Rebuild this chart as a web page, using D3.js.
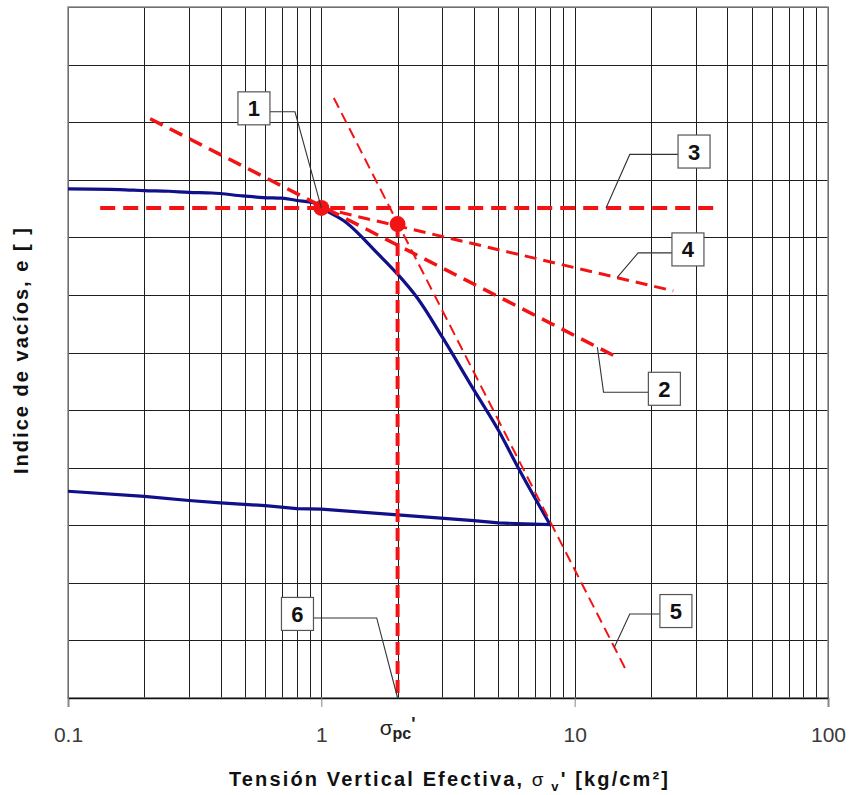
<!DOCTYPE html>
<html>
<head>
<meta charset="utf-8">
<script src="https://cdn.jsdelivr.net/npm/d3@7"></script>
<style>
  body { margin: 0; background: #fff; }
  svg { display: block; font-family: "Liberation Sans", Arial, sans-serif; }
</style>
</head>
<body>
<svg id="chart" width="849" height="795"></svg>
<script>
// Oedometer curve: void ratio e vs effective vertical stress (log scale), Casagrande construction
const xDomain = [0.1, 100];
const xTickLabels = [0.1, 1, 10, 100];
const eDomain = [0.6, 1.8];
const eGridValues = [0.6, 0.7, 0.8, 0.9, 1.0, 1.1, 1.2, 1.3, 1.4, 1.5, 1.6, 1.7, 1.8];

// loading branch [stress kg/cm², e]
const loadingCurve = [
  [0.1, 1.484], [0.16, 1.483], [0.2, 1.481], [0.25, 1.480], [0.3, 1.478],
  [0.37, 1.477], [0.49, 1.472], [0.59, 1.469], [0.7, 1.468], [0.8, 1.464],
  [0.93, 1.460], [1.0, 1.451], [1.26, 1.425], [1.66, 1.373], [2.0, 1.336],
  [2.39, 1.295], [3.0, 1.227], [4.0, 1.135], [5.0, 1.065], [6.0, 0.999],
  [8.0, 0.901]
];
// unloading branch
const unloadingCurve = [
  [8.0, 0.901], [5.0, 0.904], [4.0, 0.908], [2.0, 0.918], [1.0, 0.928],
  [0.8, 0.929], [0.6, 0.934], [0.4, 0.939], [0.3, 0.943], [0.2, 0.950],
  [0.1, 0.959]
];

// construction lines
const tangentLine = [[0.211, 1.606], [14.66, 1.192]];      // 2
const horizontalLine = [[0.134, 1.451], [36.8, 1.451]];    // 3
const bisectorLine = [[1.0, 1.451], [24.5, 1.307]];        // 4
const virginLine = [[1.12, 1.642], [16.05, 0.646]];        // 5
const sigmaPcLine = [[2.0, 1.423], [2.0, 0.6]];            // 6

const maxCurvaturePoint = [1.0, 1.451];
const sigmaPcPoint = [2.0, 1.423];

// callouts: box centre, elbow of leader, target stress on its line
const callouts = [
  { label: "1", box: [0.542, 1.624], elbow: [0.787, 1.618], target: maxCurvaturePoint },
  { label: "2", box: [22.6, 1.137], elbow: [13.0, 1.131], line: tangentLine, at: 12.29 },
  { label: "3", box: [29.6, 1.549], elbow: [16.5, 1.544], line: horizontalLine, at: 13.3 },
  { label: "4", box: [28.0, 1.379], elbow: [17.8, 1.373], line: bisectorLine, at: 14.7 },
  { label: "5", box: [25.1, 0.751], elbow: [16.5, 0.746], line: virginLine, at: 14.34 },
  { label: "6", box: [0.805, 0.746], elbow: [1.654, 0.739], target: [2.0, 0.6] }
];

const margin = { left: 68, top: 7, right: 21, bottom: 97 };
const W = 849, H = 795;
const innerW = W - margin.left - margin.right;
const innerH = H - margin.top - margin.bottom;

const svg = d3.select("#chart");
const g = svg.append("g").attr("transform", `translate(${margin.left},${margin.top})`);

const x = d3.scaleLog().domain(xDomain).range([0, innerW]);
const y = d3.scaleLinear().domain(eDomain).range([innerH, 0]);

// vertical grid at every 1..9 × decade
const xGridValues = x.ticks();
g.append("g")
  .call(d3.axisBottom(x).tickValues(xGridValues).tickSize(-innerH).tickFormat(""))
  .attr("transform", `translate(0,${innerH})`)
  .call(a => a.select(".domain").remove())
  .call(a => a.selectAll("line").attr("stroke", "#1e1e1e").attr("shape-rendering", "crispEdges"));

// horizontal grid
g.append("g")
  .call(d3.axisLeft(y).tickValues(eGridValues).tickSize(-innerW).tickFormat(""))
  .call(a => a.select(".domain").remove())
  .call(a => a.selectAll("line").attr("stroke", "#1e1e1e").attr("shape-rendering", "crispEdges"));

// frame
g.append("rect").attr("width", innerW).attr("height", innerH)
  .attr("fill", "none").attr("stroke", "#8a8a8a").attr("stroke-width", 1.5);

// bottom axis with decade labels
const xAxis = g.append("g").attr("transform", `translate(0,${innerH})`)
  .call(d3.axisBottom(x).tickValues(xTickLabels).tickSize(9).tickPadding(20)
    .tickFormat(d => String(d)));
xAxis.select(".domain").attr("stroke", "#111").attr("stroke-width", 1.5);
xAxis.selectAll("line").attr("stroke", "#888");
xAxis.selectAll("text").attr("font-size", 21).attr("fill", "#3a3a3a")
  .attr("font-family", '"Liberation Sans", Arial, sans-serif');

const line = d3.line().x(d => x(d[0])).y(d => y(d[1]));
const smoothLine = d3.line().x(d => x(d[0])).y(d => y(d[1])).curve(d3.curveMonotoneX);

// measured curve
const blue = "#10108a";
g.append("path").datum(loadingCurve).attr("d", smoothLine)
  .attr("fill", "none").attr("stroke", blue).attr("stroke-width", 3.2)
  .attr("stroke-linejoin", "round");
g.append("path").datum(unloadingCurve).attr("d", line)
  .attr("fill", "none").attr("stroke", blue).attr("stroke-width", 3.2)
  .attr("stroke-linejoin", "round");

// construction lines
const red = "#f21414";
const dashed = [
  { data: tangentLine, w: 3.5, dash: "14,8" },
  { data: horizontalLine, w: 4, dash: "15,8" },
  { data: bisectorLine, w: 3, dash: "12,7" },
  { data: virginLine, w: 2, dash: "11,6" },
  { data: sigmaPcLine, w: 4, dash: "13,6" }
];
dashed.forEach(l => {
  g.append("path").datum(l.data).attr("d", line)
    .attr("fill", "none").attr("stroke", red)
    .attr("stroke-width", l.w).attr("stroke-dasharray", l.dash);
});

g.selectAll("circle.pt").data([maxCurvaturePoint, sigmaPcPoint]).join("circle")
  .attr("class", "pt")
  .attr("cx", d => x(d[0])).attr("cy", d => y(d[1])).attr("r", 8)
  .attr("fill", red);

// point on a construction line at a given stress (linear in log stress)
function onLine(seg, s) {
  const t = (Math.log10(s) - Math.log10(seg[0][0])) / (Math.log10(seg[1][0]) - Math.log10(seg[0][0]));
  return [s, seg[0][1] + t * (seg[1][1] - seg[0][1])];
}

const boxW = 32, boxH = 33;
callouts.forEach(c => {
  const tgt = c.target || onLine(c.line, c.at);
  const bx = x(c.box[0]), by = y(c.box[1]);
  const ex = x(c.elbow[0]), ey = y(c.elbow[1]);
  const sx = ex > bx ? bx + boxW / 2 : bx - boxW / 2;
  g.append("path")
    .attr("d", `M${sx},${ey}L${ex},${ey}L${x(tgt[0])},${y(tgt[1])}`)
    .attr("fill", "none").attr("stroke", "#333").attr("stroke-width", 1.1);
  g.append("rect")
    .attr("x", bx - boxW / 2).attr("y", by - boxH / 2)
    .attr("width", boxW).attr("height", boxH)
    .attr("fill", "#fff").attr("stroke", "#555").attr("stroke-width", 1.2);
  g.append("text").attr("x", bx).attr("y", by + 8)
    .attr("text-anchor", "middle").attr("font-size", 22).attr("font-weight", "bold")
    .attr("fill", "#111").text(c.label);
});

// σpc' label under the axis
const pcLabel = g.append("text")
  .attr("x", x(sigmaPcPoint[0])).attr("y", innerH + 37)
  .attr("text-anchor", "middle").attr("fill", "#222");
pcLabel.append("tspan").attr("font-size", 21).text("σ");
pcLabel.append("tspan").attr("font-size", 16).attr("font-weight", "bold").attr("dy", 4).text("pc");
pcLabel.append("tspan").attr("font-size", 18).attr("font-weight", "bold").attr("dy", -9).text("'");

// axis titles
const xTitle = svg.append("text")
  .attr("x", 448.5).attr("y", 786)
  .attr("text-anchor", "middle").attr("font-weight", "bold").attr("font-size", 20)
  .attr("fill", "#111")
  .attr("textLength", 439).attr("lengthAdjust", "spacing");
xTitle.append("tspan").text("Tensión Vertical Efectiva, ");
xTitle.append("tspan").attr("font-weight", "normal").attr("font-size", 19).text("σ");
xTitle.append("tspan").attr("font-size", 13).attr("dy", 5).text(" v");
xTitle.append("tspan").attr("dy", -5).text("' [kg/cm²]");

svg.append("text")
  .attr("transform", "translate(28,351) rotate(-90)")
  .attr("text-anchor", "middle").attr("font-weight", "bold").attr("font-size", 20)
  .attr("fill", "#111")
  .attr("textLength", 246).attr("lengthAdjust", "spacing")
  .text("Indice de vacíos, e [ ]");
</script>
</body>
</html>
